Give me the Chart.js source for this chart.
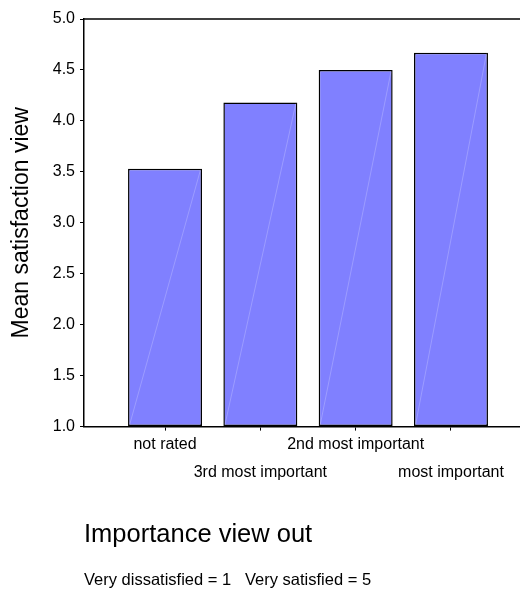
<!DOCTYPE html>
<html>
<head>
<meta charset="utf-8">
<script src="https://cdn.jsdelivr.net/npm/chart.js@4.4.1/dist/chart.umd.min.js"></script>
<style>
  html, body { margin: 0; padding: 0; background: #fff; }
  #wrap { position: relative; width: 520px; height: 592px; }
</style>
</head>
<body>
<div id="wrap"><canvas id="importanceChart"></canvas></div>
<script>
// mean satisfaction per importance ranking
var categories = ["not rated", "3rd most important", "2nd most important", "most important"];
var meanValues = [3.53, 4.18, 4.50, 4.67];
var yTicks = [1.0, 1.5, 2.0, 2.5, 3.0, 3.5, 4.0, 4.5, 5.0];

var fontFamily = "'Liberation Sans', Arial, sans-serif";

// thin light diagonal across each bar, bottom-left to top-right
var barStreak = {
    id: 'barStreak',
    afterDatasetsDraw: function (chart) {
        var ctx = chart.ctx;
        var area = chart.chartArea;
        ctx.save();
        ctx.beginPath();
        ctx.rect(area.left, area.top, area.right - area.left, area.bottom - area.top);
        ctx.clip();
        ctx.strokeStyle = 'rgba(255,255,255,0.22)';
        ctx.lineWidth = 1;
        chart.getDatasetMeta(0).data.forEach(function (bar) {
            var p = bar.getProps(['x', 'y', 'base', 'width'], true);
            ctx.beginPath();
            ctx.moveTo(p.x - p.width / 2 + 1.5, p.base - 1);
            ctx.lineTo(p.x + p.width / 2 - 1.5, p.y + 1);
            ctx.stroke();
        });
        ctx.restore();
    }
};

// top edge of the plot frame
var frameTop = {
    id: 'frameTop',
    afterDraw: function (chart) {
        var ctx = chart.ctx;
        var area = chart.chartArea;
        ctx.save();
        ctx.strokeStyle = '#000';
        ctx.lineWidth = 1.5;
        ctx.beginPath();
        ctx.moveTo(area.left, area.top);
        ctx.lineTo(area.right, area.top);
        ctx.stroke();
        ctx.restore();
    }
};

var ctx = document.getElementById("importanceChart");
var importanceChart = new Chart(ctx, {
    type: 'bar',
    data: {
        datasets: [{
            data: categories.map(function (c, i) { return { x: i + 1, y: meanValues[i] }; }),
            base: 1,
            backgroundColor: 'rgb(128,128,255)',
            borderColor: '#000',
            borderWidth: 1.5,
            borderSkipped: false,
            barPercentage: 0.776,
            categoryPercentage: 1
        }]
    },
    options: {
        responsive: true,
        maintainAspectRatio: false,
        animation: false,
        events: [],
        layout: {
            padding: { top: 19, right: 0, bottom: 2, left: 0 }
        },
        scales: {
            x: {
                type: 'linear',
                min: 0.15,
                max: 4.724,
                offset: false,
                afterBuildTicks: function (scale) {
                    scale.ticks = categories.map(function (c, i) { return { value: i + 1 }; });
                },
                afterFit: function (scale) {
                    scale.height = 59;
                },
                grid: {
                    display: true,
                    offset: false,
                    drawOnChartArea: false,
                    drawTicks: true,
                    tickLength: 4,
                    tickColor: '#000'
                },
                border: { display: true, color: '#000', width: 1.5 },
                ticks: {
                    autoSkip: false,
                    maxRotation: 0,
                    padding: 0,
                    color: '#000',
                    font: { family: fontFamily, size: 16, lineHeight: 1.75 },
                    callback: function (value, index) {
                        var label = categories[index];
                        return index % 2 === 1 ? ['', label] : label;
                    }
                }
            },
            y: {
                min: 1,
                max: 5,
                afterBuildTicks: function (scale) {
                    scale.ticks = yTicks.map(function (v) { return { value: v }; });
                },
                afterFit: function (scale) {
                    scale.width = 84;
                },
                grid: {
                    display: true,
                    drawOnChartArea: false,
                    drawTicks: true,
                    tickLength: 4,
                    tickColor: '#000'
                },
                border: { display: true, color: '#000', width: 1.5 },
                ticks: {
                    padding: 5,
                    color: '#000',
                    font: { family: fontFamily, size: 16 },
                    callback: function (value) { return value.toFixed(1); }
                },
                title: {
                    display: true,
                    text: 'Mean satisfaction view',
                    color: '#000',
                    padding: { top: 8, bottom: 0 },
                    font: { family: fontFamily, size: 23 }
                }
            }
        },
        plugins: {
            legend: { display: false },
            tooltip: { enabled: false },
            title: {
                display: true,
                text: 'Importance view out',
                position: 'bottom',
                align: 'start',
                fullSize: false,
                weight: 1000,
                color: '#000',
                padding: { top: 34, bottom: 0 },
                font: { family: fontFamily, size: 25.5, weight: 'normal', lineHeight: 1.2 }
            },
            subtitle: {
                display: true,
                text: 'Very dissatisfied = 1   Very satisfied = 5',
                position: 'bottom',
                align: 'start',
                fullSize: false,
                weight: 1500,
                color: '#000',
                padding: { top: 20, bottom: 0 },
                font: { family: fontFamily, size: 16.5, weight: 'normal', lineHeight: 1.2 }
            }
        }
    },
    plugins: [barStreak, frameTop]
});
</script>
</body>
</html>
